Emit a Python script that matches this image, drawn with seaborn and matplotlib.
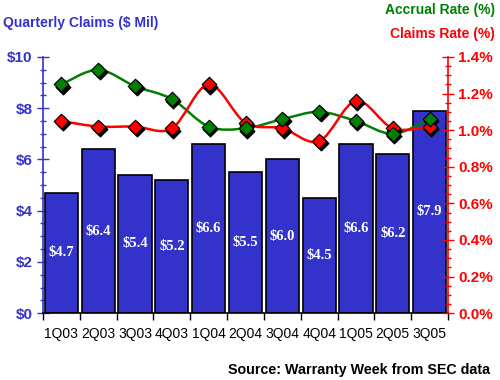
import numpy as np
import matplotlib
matplotlib.use("Agg")
import matplotlib.pyplot as plt
import seaborn as sns
from matplotlib.path import Path
from matplotlib.patches import PathPatch
from matplotlib.ticker import MultipleLocator, FuncFormatter, FixedLocator

quarters = ["1Q03", "2Q03", "3Q03", "4Q03", "1Q04", "2Q04",
            "3Q04", "4Q04", "1Q05", "2Q05", "3Q05"]
claims = [4.7, 6.4, 5.4, 5.2, 6.6, 5.5, 6.0, 4.5, 6.6, 6.2, 7.9]
accrual_rate = [1.25, 1.33, 1.24, 1.17, 1.02, 1.01, 1.06, 1.10, 1.05, 0.98, 1.06]
claims_rate = [1.05, 1.02, 1.02, 1.01, 1.25, 1.04, 1.01, 0.94, 1.16, 1.01, 1.02]

BLUE = "#3333cc"
GREEN = "#008000"
RED = "#ff0000"

sns.set_theme(style="white")
plt.rcParams['font.family'] = ['Liberation Sans', 'DejaVu Sans']

fig = plt.figure(figsize=(5, 3.8), dpi=100)
ax = fig.add_axes([0.086, 0.176, 0.81, 0.674])

sns.barplot(x=quarters, y=claims, color=BLUE, saturation=1, width=0.9,
            edgecolor="black", linewidth=1.2, ax=ax)
for i, v in enumerate(claims):
    ax.text(i, v / 2, f"${v:.1f}", ha="center", va="center", color="white",
            fontsize=10.5, fontweight="bold", family="Liberation Serif")

ax.set_xlim(-0.5, 10.5)
ax.set_ylim(0, 10)
ax.yaxis.set_major_locator(MultipleLocator(2))
ax.yaxis.set_minor_locator(MultipleLocator(0.5))
ax.yaxis.set_major_formatter(FuncFormatter(lambda v, p: f"${v:.0f}"))
ax.xaxis.set_minor_locator(FixedLocator(np.arange(-0.5, 11, 1)))
ax.tick_params(axis="y", which="major", direction="inout", length=8, width=1,
               color=BLUE, labelcolor=BLUE, labelsize=11, left=True)
ax.tick_params(axis="y", which="minor", direction="inout", length=4, width=1,
               color=BLUE, left=True)
ax.tick_params(axis="x", which="major", length=0, labelsize=10, pad=10,
               labelcolor="black")
ax.tick_params(axis="x", which="minor", direction="out", length=5, width=1,
               color="black", bottom=True)
for lab in ax.get_yticklabels():
    lab.set_fontweight("bold")
ax.set_xlabel("")
ax.set_ylabel("")
for s in ["top", "right"]:
    ax.spines[s].set_visible(False)
ax.spines["left"].set_color(BLUE)
ax.spines["left"].set_linewidth(1.2)
ax.spines["bottom"].set_color("black")
ax.spines["bottom"].set_linewidth(1.2)

ax2 = ax.twinx()
ax2.set_ylim(0, 1.4)
ax2.yaxis.set_major_locator(MultipleLocator(0.2))
ax2.yaxis.set_minor_locator(MultipleLocator(0.05))
ax2.yaxis.set_major_formatter(FuncFormatter(lambda v, p: f"{v:.1f}%"))
ax2.tick_params(axis="y", which="major", direction="inout", length=8, width=1,
                color=RED, labelcolor=RED, labelsize=11, right=True)
ax2.tick_params(axis="y", which="minor", direction="inout", length=4, width=1,
                color=RED, right=True)
for lab in ax2.get_yticklabels():
    lab.set_fontweight("bold")
for s in ["top", "left", "bottom"]:
    ax2.spines[s].set_visible(False)
ax2.spines["right"].set_color(RED)
ax2.spines["right"].set_linewidth(1.2)


def smooth_path(xs, ys):
    # catmull-rom curve drawn as cubic bezier segments
    pts = np.column_stack([xs, ys])
    verts = [pts[0]]
    codes = [Path.MOVETO]
    n = len(pts)
    for i in range(n - 1):
        p0 = pts[max(i - 1, 0)]
        p1 = pts[i]
        p2 = pts[i + 1]
        p3 = pts[min(i + 2, n - 1)]
        c1 = p1 + (p2 - p0) / 6
        c2 = p2 - (p3 - p1) / 6
        verts += [c1, c2, p2]
        codes += [Path.CURVE4] * 3
    return Path(verts, codes)


xpos = np.arange(len(quarters))
for rate, col in [(accrual_rate, GREEN), (claims_rate, RED)]:
    ax2.add_patch(PathPatch(smooth_path(xpos, rate), facecolor="none",
                            edgecolor=col, lw=1.8, zorder=3))
for rate, col in [(claims_rate, RED), (accrual_rate, GREEN)]:
    # little black shadow under each diamond
    ax2.scatter(xpos + 0.04, np.array(rate) - 0.012, marker="D", s=55,
                color="black", zorder=4)
    sns.scatterplot(x=xpos, y=rate, marker="D", s=55, color=col,
                    edgecolor="black", linewidth=0.8, zorder=5, ax=ax2)
ax2.set_ylabel("")

fig.text(0.006, 0.94, "Quarterly Claims ($ Mil)", color=BLUE, fontsize=10,
         fontweight="bold", ha="left", va="center")
fig.text(0.99, 0.974, "Accrual Rate (%)", color=GREEN, fontsize=10,
         fontweight="bold", ha="right", va="center")
fig.text(0.99, 0.91, "Claims Rate (%)", color=RED, fontsize=10,
         fontweight="bold", ha="right", va="center")
fig.text(0.98, 0.026, "Source: Warranty Week from SEC data", color="black",
         fontsize=10.3, fontweight="bold", ha="right", va="center")

fig.savefig("out.png", dpi=100)
